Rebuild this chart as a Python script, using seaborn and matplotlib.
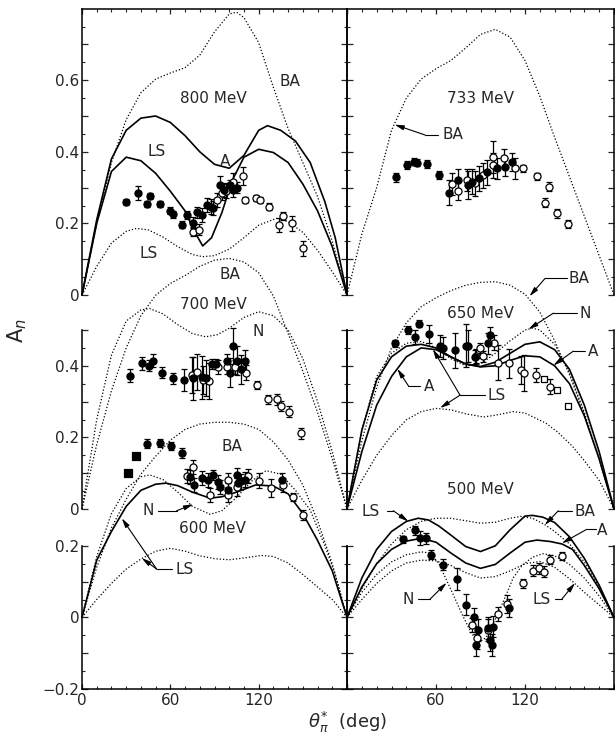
import numpy as np
import pandas as pd
import matplotlib
matplotlib.use("Agg")
import matplotlib.pyplot as plt
import seaborn as sns

sns.set_style("ticks")
plt.rcParams['font.family'] = ['DejaVu Sans']
plt.rcParams['mathtext.fontset'] = 'dejavusans'

# ---------------- 800 MeV (top left) ----------------
ba800_x = [0, 10, 20, 30, 40, 50, 60, 70, 80, 90, 100, 105, 110, 120, 130, 140, 150, 160, 170, 180]
ba800_y = [0, 0.20, 0.37, 0.49, 0.565, 0.603, 0.62, 0.635, 0.67, 0.735, 0.785, 0.79, 0.775, 0.705, 0.58, 0.465, 0.37, 0.275, 0.15, 0]
a800_x = [0, 10, 20, 30, 40, 50, 60, 70, 80, 90, 100, 110, 120, 126, 135, 145, 155, 165, 172, 180]
a800_y = [0, 0.21, 0.38, 0.46, 0.494, 0.50, 0.482, 0.445, 0.40, 0.365, 0.354, 0.39, 0.46, 0.473, 0.46, 0.43, 0.37, 0.26, 0.16, 0]
ls800_x = [0, 10, 20, 30, 40, 50, 60, 70, 76, 82, 88, 95, 102, 110, 120, 130, 140, 150, 160, 170, 180]
ls800_y = [0, 0.20, 0.345, 0.385, 0.375, 0.34, 0.29, 0.235, 0.18, 0.137, 0.16, 0.23, 0.32, 0.385, 0.407, 0.398, 0.37, 0.31, 0.235, 0.135, 0]
lsd800_x = [0, 10, 20, 30, 37, 45, 55, 65, 75, 82, 90, 100, 110, 120, 132, 140, 150, 160, 170, 180]
lsd800_y = [0, 0.08, 0.145, 0.178, 0.186, 0.182, 0.162, 0.135, 0.113, 0.107, 0.11, 0.128, 0.16, 0.195, 0.214, 0.205, 0.175, 0.125, 0.065, 0]
f800_x = [30, 37.8, 44, 46.2, 53, 59.8, 61.6, 67.7, 71.5, 75.2, 78, 81.3, 85.1, 87.4, 89, 93.8, 96.5, 100.5, 102.8, 105]
f800_y = [0.26, 0.284, 0.254, 0.276, 0.254, 0.235, 0.226, 0.196, 0.223, 0.202, 0.231, 0.224, 0.251, 0.247, 0.243, 0.307, 0.293, 0.307, 0.293, 0.30]
f800_e = [0.008, 0.02, 0.008, 0.008, 0.008, 0.01, 0.01, 0.01, 0.012, 0.015, 0.015, 0.02, 0.02, 0.02, 0.02, 0.025, 0.02, 0.015, 0.02, 0.015]
o800_x = [75.2, 79.7, 91.5, 94.9, 98, 102.4, 109.2, 111, 118.2, 121, 127.3, 134, 136.8, 142.9, 150.4]
o800_y = [0.177, 0.182, 0.265, 0.284, 0.29, 0.315, 0.332, 0.265, 0.27, 0.265, 0.247, 0.196, 0.221, 0.20, 0.13]
o800_e = [0.012, 0.015, 0.02, 0.02, 0.02, 0.025, 0.025, 0.008, 0.008, 0.008, 0.01, 0.02, 0.012, 0.02, 0.02]

# ---------------- 733 MeV (top right) ----------------
ba733_x = [0, 10, 20, 30, 40, 50, 60, 70, 80, 90, 100, 110, 120, 130, 140, 150, 160, 170, 180]
ba733_y = [0, 0.17, 0.30, 0.46, 0.55, 0.603, 0.632, 0.655, 0.69, 0.728, 0.742, 0.72, 0.655, 0.555, 0.44, 0.33, 0.22, 0.11, 0]
f733_x = [32.8, 40.2, 45.2, 47.4, 53.7, 62.3, 68.6, 75, 81.8, 84, 89.2, 94.2, 101, 106.5, 111]
f733_y = [0.329, 0.363, 0.372, 0.37, 0.366, 0.335, 0.286, 0.321, 0.307, 0.317, 0.326, 0.343, 0.354, 0.358, 0.372]
f733_e = [0.012, 0.012, 0.01, 0.01, 0.012, 0.012, 0.035, 0.03, 0.04, 0.035, 0.035, 0.035, 0.03, 0.025, 0.025]
o733_x = [70.6, 75, 80.6, 86.3, 92, 98.7, 98.7, 106, 113.3, 118.9, 127.9, 133.5, 136.2, 141.8, 149.2]
o733_y = [0.31, 0.291, 0.321, 0.312, 0.335, 0.386, 0.363, 0.382, 0.354, 0.354, 0.332, 0.258, 0.303, 0.228, 0.198]
o733_e = [0.03, 0.025, 0.03, 0.035, 0.035, 0.045, 0.035, 0.025, 0.03, 0.01, 0.01, 0.012, 0.012, 0.012, 0.012]

# ---------------- 700 MeV (middle left) ----------------
ba700_x = [0, 10, 20, 30, 40, 50, 60, 70, 80, 90, 100, 110, 120, 130, 140, 150, 160, 170, 180]
ba700_y = [0, 0.18, 0.33, 0.45, 0.54, 0.597, 0.63, 0.652, 0.678, 0.695, 0.70, 0.69, 0.66, 0.595, 0.49, 0.385, 0.27, 0.14, 0]
n700_x = [0, 10, 20, 30, 40, 46, 55, 65, 75, 84, 92, 100, 110, 120, 130, 140, 150, 160, 170, 180]
n700_y = [0, 0.25, 0.43, 0.525, 0.556, 0.56, 0.545, 0.515, 0.49, 0.481, 0.487, 0.505, 0.535, 0.551, 0.54, 0.50, 0.42, 0.30, 0.16, 0]
f700_x = [32.6, 40.5, 45.7, 48.5, 54.1, 62, 69.5, 75.6, 81.3, 84, 88.5, 91, 98.3, 100.5, 102.8, 105, 107.7, 110.7]
f700_y = [0.372, 0.407, 0.40, 0.414, 0.381, 0.365, 0.36, 0.365, 0.368, 0.365, 0.405, 0.405, 0.414, 0.381, 0.455, 0.414, 0.39, 0.414]
f700_e = [0.018, 0.018, 0.015, 0.018, 0.015, 0.015, 0.03, 0.06, 0.06, 0.05, 0.015, 0.015, 0.02, 0.04, 0.05, 0.04, 0.04, 0.03]
o700_x = [74.5, 77.9, 82.4, 86.5, 92.6, 98.3, 104, 111.4, 118.7, 126.6, 132.7, 135.2, 140.4, 148.6]
o700_y = [0.374, 0.383, 0.36, 0.358, 0.397, 0.397, 0.397, 0.381, 0.346, 0.306, 0.306, 0.288, 0.272, 0.211]
o700_e = [0.05, 0.05, 0.04, 0.05, 0.02, 0.02, 0.02, 0.02, 0.012, 0.012, 0.015, 0.015, 0.015, 0.015]

# ---------------- 600 MeV (bottom left) ----------------
ba600_x = [0, 10, 20, 30, 40, 50, 60, 70, 80, 90, 100, 110, 120, 130, 140, 150, 160, 170, 180]
ba600_y = [0, 0.14, 0.25, 0.33, 0.40, 0.45, 0.495, 0.525, 0.54, 0.545, 0.545, 0.54, 0.525, 0.49, 0.44, 0.37, 0.27, 0.15, 0]
n600_x = [0, 10, 20, 30, 40, 46, 55, 65, 75, 87, 95, 105, 115, 125, 135, 145, 155, 165, 172, 180]
n600_y = [0, 0.17, 0.29, 0.36, 0.393, 0.398, 0.385, 0.35, 0.31, 0.288, 0.298, 0.335, 0.38, 0.41, 0.40, 0.355, 0.30, 0.20, 0.12, 0]
s600_x = [0, 10, 20, 30, 40, 50, 57, 65, 75, 87, 95, 105, 118, 130, 140, 150, 160, 170, 180]
s600_y = [0, 0.16, 0.24, 0.31, 0.355, 0.372, 0.375, 0.368, 0.35, 0.333, 0.337, 0.35, 0.37, 0.367, 0.345, 0.29, 0.215, 0.13, 0]
lsd600_x = [0, 10, 20, 30, 40, 50, 60, 70, 80, 90, 100, 110, 122, 130, 140, 150, 160, 170, 180]
lsd600_y = [0, 0.05, 0.095, 0.135, 0.163, 0.185, 0.193, 0.185, 0.172, 0.164, 0.161, 0.166, 0.173, 0.17, 0.152, 0.12, 0.085, 0.05, 0]
q600_x = [31, 37]
q600_y = [0.403, 0.45]
f600_x = [44, 53, 60.5, 67.7, 73.4, 76, 81.3, 85.8, 89.2, 92.6, 93.5, 99.4, 105, 105.7, 108, 110.5, 135.6]
f600_y = [0.485, 0.487, 0.479, 0.459, 0.393, 0.37, 0.389, 0.384, 0.398, 0.379, 0.364, 0.356, 0.398, 0.376, 0.38, 0.385, 0.384]
f600_e = [0.012, 0.012, 0.012, 0.015, 0.02, 0.02, 0.02, 0.02, 0.015, 0.02, 0.02, 0.02, 0.02, 0.02, 0.02, 0.02, 0.02]
o600_x = [71.5, 75.2, 86.8, 99, 98.9, 105.5, 112.6, 120.2, 128.2, 136.3, 143.1, 150]
o600_y = [0.395, 0.421, 0.342, 0.384, 0.342, 0.365, 0.395, 0.382, 0.361, 0.37, 0.336, 0.286]
o600_e = [0.02, 0.02, 0.02, 0.02, 0.02, 0.025, 0.02, 0.02, 0.025, 0.02, 0.012, 0.015]

# ---------------- 650 MeV (middle right) ----------------
ba650_x = [0, 10, 20, 30, 40, 50, 60, 70, 80, 90, 100, 110, 120, 130, 140, 150, 160, 170, 180]
ba650_y = [0, 0.19, 0.34, 0.45, 0.52, 0.565, 0.59, 0.61, 0.625, 0.633, 0.635, 0.625, 0.60, 0.55, 0.47, 0.375, 0.265, 0.14, 0]
n650_x = [0, 10, 20, 30, 40, 50, 60, 70, 80, 90, 100, 110, 120, 125, 130, 140, 150, 160, 170, 180]
n650_y = [0, 0.22, 0.37, 0.435, 0.463, 0.468, 0.45, 0.42, 0.40, 0.405, 0.435, 0.47, 0.50, 0.505, 0.50, 0.46, 0.38, 0.27, 0.14, 0]
ls650_x = [0, 10, 20, 30, 40, 50, 60, 70, 80, 90, 100, 110, 120, 130, 140, 150, 160, 170, 180]
ls650_y = [0, 0.22, 0.36, 0.425, 0.455, 0.46, 0.45, 0.425, 0.405, 0.398, 0.41, 0.435, 0.46, 0.467, 0.445, 0.39, 0.29, 0.16, 0]
a650_x = [0, 10, 20, 30, 40, 50, 60, 70, 80, 90, 100, 110, 120, 130, 140, 150, 160, 170, 180]
a650_y = [0, 0.16, 0.29, 0.37, 0.425, 0.45, 0.445, 0.425, 0.405, 0.397, 0.40, 0.415, 0.428, 0.425, 0.40, 0.35, 0.26, 0.14, 0]
lsd650_x = [0, 10, 20, 30, 40, 50, 60, 70, 80, 92, 100, 112, 120, 134, 142, 152, 160, 170, 180]
lsd650_y = [0, 0.08, 0.15, 0.205, 0.249, 0.272, 0.281, 0.277, 0.266, 0.257, 0.262, 0.272, 0.268, 0.24, 0.215, 0.175, 0.135, 0.08, 0]
f650_x = [32.4, 41.4, 45.9, 48.6, 55, 62.7, 65, 72.8, 80.2, 81.5, 86, 95.3, 96.6]
f650_y = [0.463, 0.50, 0.48, 0.517, 0.489, 0.455, 0.45, 0.443, 0.456, 0.455, 0.425, 0.463, 0.487]
f650_e = [0.01, 0.01, 0.02, 0.01, 0.025, 0.03, 0.03, 0.05, 0.06, 0.045, 0.02, 0.03, 0.02]
o650_x = [87, 89.6, 91.9, 99, 102, 109.5, 117, 119.6, 127.5, 136.9]
o650_y = [0.427, 0.45, 0.427, 0.465, 0.409, 0.407, 0.388, 0.38, 0.374, 0.342]
o650_e = [0.02, 0.015, 0.015, 0.02, 0.05, 0.04, 0.04, 0.05, 0.02, 0.02]
sq650_x = [132.8, 141.8, 149.2]
sq650_y = [0.362, 0.332, 0.289]

# ---------------- 500 MeV (bottom right) ----------------
ls500_x = [0, 10, 20, 30, 40, 48, 55, 62, 70, 80, 90, 100, 110, 120, 125, 132, 140, 150, 160, 170, 180]
ls500_y = [0, 0.11, 0.19, 0.24, 0.268, 0.277, 0.272, 0.255, 0.23, 0.198, 0.184, 0.20, 0.245, 0.283, 0.285, 0.28, 0.265, 0.225, 0.165, 0.09, 0]
a500_x = [0, 10, 20, 30, 40, 50, 60, 70, 80, 90, 100, 110, 120, 128, 137, 145, 152, 160, 170, 180]
a500_y = [0, 0.085, 0.15, 0.19, 0.213, 0.221, 0.21, 0.18, 0.152, 0.137, 0.148, 0.18, 0.21, 0.216, 0.212, 0.205, 0.19, 0.145, 0.08, 0]
ba500_x = [0, 10, 20, 30, 40, 50, 60, 70, 80, 90, 100, 110, 117, 125, 133, 140, 150, 160, 170, 180]
ba500_y = [0, 0.08, 0.15, 0.205, 0.245, 0.268, 0.277, 0.277, 0.27, 0.263, 0.266, 0.277, 0.282, 0.277, 0.26, 0.24, 0.205, 0.155, 0.085, 0]
n500_x = [0, 10, 20, 30, 40, 50, 56, 62, 67, 72, 78, 84, 89, 94, 100, 106, 112, 118, 125, 132, 140, 150, 160, 170, 180]
n500_y = [0, 0.07, 0.12, 0.155, 0.175, 0.183, 0.18, 0.15, 0.105, 0.06, 0.005, -0.045, -0.07, -0.055, -0.005, 0.05, 0.11, 0.145, 0.168, 0.178, 0.172, 0.148, 0.11, 0.06, 0]
lsd500_x = [0, 10, 20, 30, 40, 50, 60, 70, 80, 90, 100, 110, 120, 130, 140, 150, 160, 170, 180]
lsd500_y = [0, 0.05, 0.095, 0.13, 0.152, 0.16, 0.158, 0.145, 0.125, 0.11, 0.114, 0.13, 0.15, 0.156, 0.14, 0.108, 0.07, 0.035, 0]
f500_x = [37.5, 45.9, 49.2, 53.3, 56.6, 64.5, 74, 80.5, 85.5, 88.5, 87, 95.3, 96.4, 98.7, 97.6, 109]
f500_y = [0.218, 0.243, 0.221, 0.221, 0.175, 0.147, 0.107, 0.036, 0.0, -0.035, -0.077, -0.03, -0.063, -0.026, -0.077, 0.026]
f500_e = [0.01, 0.012, 0.02, 0.015, 0.012, 0.015, 0.03, 0.03, 0.025, 0.03, 0.03, 0.03, 0.03, 0.03, 0.03, 0.025]
o500_x = [84, 87.4, 95.3, 102, 107.7, 118.5, 125.6, 129.5, 132.8, 136.9, 144.8]
o500_y = [-0.021, -0.058, -0.035, 0.01, 0.038, 0.095, 0.13, 0.137, 0.128, 0.161, 0.172]
o500_e = [0.02, 0.03, 0.03, 0.02, 0.025, 0.012, 0.015, 0.015, 0.015, 0.012, 0.012]

# ---------------- layout ----------------
W, H = 615, 743
TOPPX = 9
SC = 358.0
fig = plt.figure(figsize=(W / 100, H / 100), dpi=100)

COLS = [(82, 347), (347, 614)]
ROWS = {'top': (295, 0.0), 'mid': (509, 0.0), 'bot': (689, -0.2)}
FS = 11


def make_ax(row, col):
    x0, x1 = COLS[col]
    ybot, vbot = ROWS[row]
    ax = fig.add_axes([x0 / W, 1 - ybot / H, (x1 - x0) / W, (ybot - TOPPX) / H])
    ax.set_xlim(0, 180)
    ax.set_ylim(vbot, vbot + (ybot - TOPPX) / SC)
    ax.patch.set_alpha(0)
    for s in ax.spines.values():
        s.set_linewidth(1.1)
        s.set_color('black')
    if row == 'top':
        lo, hi = 0.0, 0.75
        ax.spines['bottom'].set_visible(False)
    elif row == 'mid':
        lo, hi = 0.0, 0.5
        ax.spines['top'].set_visible(False)
        ax.spines['bottom'].set_visible(False)
        ax.spines['left'].set_bounds(0, 0.5)
        ax.spines['right'].set_bounds(0, 0.5)
    else:
        lo, hi = -0.2, 0.2
        ax.spines['top'].set_visible(False)
        ax.spines['left'].set_bounds(-0.2, 0.2)
        ax.spines['right'].set_bounds(-0.2, 0.2)
    major = np.round(np.arange(lo, min(hi, 0.7) + 1e-9, 0.1), 2)
    minor = np.round(np.arange(lo + 0.05, hi + 1e-9, 0.1), 2)
    ax.set_yticks(major)
    ax.set_yticks(minor, minor=True)
    if col == 0:
        labs = []
        for v in major:
            if abs(round(v / 0.2) * 0.2 - v) < 1e-6:
                labs.append('0' if abs(v) < 1e-9 else ('\u2212%.1f' % abs(v) if v < 0 else '%.1f' % v))
            else:
                labs.append('')
        ax.set_yticklabels(labs, fontsize=FS)
    else:
        ax.set_yticklabels([''] * len(major))
    ax.tick_params(axis='y', which='both', direction='in', left=True, right=True, pad=2)
    ax.tick_params(axis='y', which='major', length=4.5, width=0.9)
    ax.tick_params(axis='y', which='minor', length=2.5, width=0.8)
    ax.set_xticks([0, 60, 120, 180])
    ax.set_xticks(np.arange(10, 180, 10), minor=True)
    if row == 'bot':
        ax.set_xticklabels(['0' if col == 0 else '', '60', '120', ''], fontsize=FS)
        ax.tick_params(axis='x', which='both', direction='in', bottom=True, top=False, pad=3)
    elif row == 'top':
        ax.tick_params(axis='x', which='both', direction='in', bottom=False, top=True,
                       labelbottom=False)
    else:
        ax.tick_params(axis='x', which='both', bottom=False, top=False, labelbottom=False)
    ax.tick_params(axis='x', which='major', length=3.5, width=0.9)
    ax.tick_params(axis='x', which='minor', length=2.5, width=0.8)
    ax.set_xlabel('')
    ax.set_ylabel('')
    return ax


DOT = (0, (1.0, 1.6))


def curve(ax, xs, ys, dotted=False):
    sns.lineplot(x=xs, y=ys, ax=ax, sort=False, estimator=None, color='black',
                 lw=0.9 if dotted else 1.2, linestyle=DOT if dotted else '-',
                 clip_on=False)


def points(ax, xs, ys, es=None, filled=True, marker='o', size=26):
    if es is not None:
        ax.errorbar(xs, ys, yerr=es, fmt='none', ecolor='black', elinewidth=0.9,
                    capsize=2.2, capthick=0.9, zorder=3)
    sns.scatterplot(x=xs, y=ys, ax=ax, marker=marker, s=size,
                    color='black' if filled else 'white', edgecolor='black',
                    linewidth=0.9, zorder=4, legend=False)


def label(ax, x, y, s):
    ax.text(x, y, s, ha='center', va='center', fontsize=FS)


def leader(ax, pts, tips):
    xs = [p[0] for p in pts]
    ys = [p[1] for p in pts]
    ax.plot(xs, ys, color='black', lw=0.8)
    for t in tips:
        ax.annotate('', xy=t, xytext=pts[-1],
                    arrowprops=dict(arrowstyle='-|>,head_length=0.55,head_width=0.14',
                                    color='black', lw=0.8, shrinkA=0, shrinkB=0))


ax_tl = make_ax('top', 0)
ax_tr = make_ax('top', 1)
ax_ml = make_ax('mid', 0)
ax_mr = make_ax('mid', 1)
ax_bl = make_ax('bot', 0)
ax_br = make_ax('bot', 1)

# 800 MeV
curve(ax_tl, ba800_x, ba800_y, True)
curve(ax_tl, a800_x, a800_y)
curve(ax_tl, ls800_x, ls800_y)
curve(ax_tl, lsd800_x, lsd800_y, True)
points(ax_tl, o800_x, o800_y, o800_e, filled=False)
points(ax_tl, f800_x, f800_y, f800_e, filled=True)
label(ax_tl, 89, 0.55, '800 MeV')
label(ax_tl, 141.5, 0.596, 'BA')
label(ax_tl, 50.7, 0.40, 'LS')
label(ax_tl, 97, 0.372, 'A')
label(ax_tl, 45, 0.117, 'LS')

# 733 MeV
curve(ax_tr, ba733_x, ba733_y, True)
points(ax_tr, o733_x, o733_y, o733_e, filled=False)
points(ax_tr, f733_x, f733_y, f733_e, filled=True)
label(ax_tr, 89.7, 0.55, '733 MeV')
label(ax_tr, 71.7, 0.447, 'BA')
leader(ax_tr, [(61.5, 0.447), (52.6, 0.447)], [(32.0, 0.476)])

# 700 MeV
curve(ax_ml, ba700_x, ba700_y, True)
curve(ax_ml, n700_x, n700_y, True)
points(ax_ml, o700_x, o700_y, o700_e, filled=False)
points(ax_ml, f700_x, f700_y, f700_e, filled=True)
label(ax_ml, 89, 0.57, '700 MeV')
label(ax_ml, 100.5, 0.654, 'BA')
label(ax_ml, 120, 0.495, 'N')

# 600 MeV
curve(ax_bl, ba600_x, ba600_y, True)
curve(ax_bl, n600_x, n600_y, True)
curve(ax_bl, s600_x, s600_y)
curve(ax_bl, lsd600_x, lsd600_y, True)
points(ax_bl, o600_x, o600_y, o600_e, filled=False)
points(ax_bl, f600_x, f600_y, f600_e, filled=True)
points(ax_bl, q600_x, q600_y, None, filled=True, marker='s', size=26)
label(ax_bl, 101.7, 0.477, 'BA')
label(ax_bl, 88.5, 0.247, '600 MeV')
label(ax_bl, 45, 0.298, 'N')
leader(ax_bl, [(51.8, 0.298), (64.3, 0.298)], [(75.6, 0.316)])
label(ax_bl, 70, 0.133, 'LS')
leader(ax_bl, [(60.9, 0.135), (50.7, 0.135)], [(27, 0.277), (40.5, 0.166)])

# 650 MeV
curve(ax_mr, ba650_x, ba650_y, True)
curve(ax_mr, n650_x, n650_y, True)
curve(ax_mr, ls650_x, ls650_y)
curve(ax_mr, a650_x, a650_y)
curve(ax_mr, lsd650_x, lsd650_y, True)
points(ax_mr, o650_x, o650_y, o650_e, filled=False)
points(ax_mr, sq650_x, sq650_y, None, filled=False, marker='s', size=20)
points(ax_mr, f650_x, f650_y, f650_e, filled=True)
label(ax_mr, 89.7, 0.547, '650 MeV')
label(ax_mr, 156.5, 0.644, 'BA')
leader(ax_mr, [(148.1, 0.644), (133.5, 0.644)], [(123.0, 0.594)])
label(ax_mr, 160.5, 0.547, 'N')
leader(ax_mr, [(154.9, 0.547), (139.1, 0.547)], [(122.3, 0.502)])
label(ax_mr, 166.1, 0.439, 'A')
leader(ax_mr, [(160.5, 0.441), (152.6, 0.441)], [(139.1, 0.401)])
label(ax_mr, 55.5, 0.342, 'A')
leader(ax_mr, [(49.2, 0.344), (41.4, 0.344)], [(33.9, 0.392)])
label(ax_mr, 101, 0.316, 'LS')
leader(ax_mr, [(93, 0.318), (76.2, 0.318)], [(57.8, 0.447), (62.7, 0.282)])

# 500 MeV
curve(ax_br, ls500_x, ls500_y)
curve(ax_br, a500_x, a500_y)
curve(ax_br, ba500_x, ba500_y, True)
curve(ax_br, n500_x, n500_y, True)
curve(ax_br, lsd500_x, lsd500_y, True)
points(ax_br, o500_x, o500_y, o500_e, filled=False)
points(ax_br, f500_x, f500_y, f500_e, filled=True)
label(ax_br, 89.7, 0.356, '500 MeV')
label(ax_br, 16, 0.296, 'LS')
leader(ax_br, [(26.8, 0.298), (31.2, 0.298)], [(41.4, 0.268)])
label(ax_br, 160.5, 0.296, 'BA')
leader(ax_br, [(151.5, 0.298), (142.5, 0.298)], [(133.3, 0.258)])
label(ax_br, 171.7, 0.244, 'A')
leader(ax_br, [(168.0, 0.246), (161.6, 0.246)], [(144.8, 0.207)])
label(ax_br, 41.4, 0.049, 'N')
leader(ax_br, [(48.1, 0.051), (56, 0.051)], [(67.2, 0.097)])
label(ax_br, 131.3, 0.049, 'LS')
leader(ax_br, [(140.3, 0.051), (144.8, 0.051)], [(153.7, 0.096)])

fig.text(17 / W, 1 - 331 / H, r'A$_n$', rotation=90, ha='center', va='center', fontsize=15)
fig.text(348 / W, 1 - 722 / H, r'$\theta^{*}_{\pi}$  (deg)', ha='center', va='center', fontsize=13)

fig.savefig('out.png', dpi=100)
